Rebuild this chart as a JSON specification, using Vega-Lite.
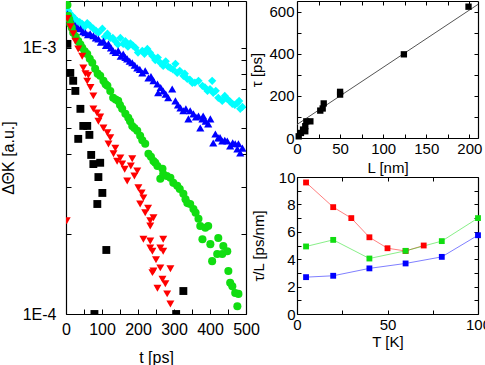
{
  "$schema": "https://vega.github.io/schema/vega-lite/v6.json",
  "padding": {"left": 0, "top": 0, "right": 0, "bottom": 0},
  "bounds": "flush",
  "spacing": 51,
  "config": {
    "view": {"stroke": null},
    "axis": {
      "grid": false,
      "labelFont": "Liberation Sans",
      "titleFont": "Liberation Sans",
      "labelColor": "#000",
      "titleColor": "#000",
      "tickColor": "#000",
      "domainColor": "#000",
      "domainWidth": 1.2,
      "tickWidth": 1,
      "titleFontWeight": "normal",
      "labelOverlap": false,
      "labelFlush": false
    }
  },
  "datasets": {
    "decay": [
      {"s":"c","t":6,"v":13.8e-4},{"s":"c","t":10,"v":13.5e-4},{"s":"c","t":17,"v":13.2e-4},{"s":"c","t":24,"v":12.9e-4},{"s":"c","t":31,"v":12.6e-4},{"s":"c","t":38,"v":12.5e-4},{"s":"c","t":45,"v":12.3e-4},{"s":"c","t":52,"v":12.0e-4},{"s":"c","t":59,"v":12.4e-4},{"s":"c","t":67,"v":12.1e-4},{"s":"c","t":76,"v":11.8e-4},{"s":"c","t":83,"v":11.6e-4},{"s":"c","t":90,"v":11.4e-4},{"s":"c","t":101,"v":11.8e-4},{"s":"c","t":108,"v":11.0e-4},{"s":"c","t":115,"v":11.3e-4},{"s":"c","t":123,"v":10.9e-4},{"s":"c","t":130,"v":10.9e-4},{"s":"c","t":137,"v":10.6e-4},{"s":"c","t":144,"v":10.3e-4},{"s":"c","t":151,"v":10.9e-4},{"s":"c","t":159,"v":10.35e-4},{"s":"c","t":165,"v":10.6e-4},{"s":"c","t":172,"v":10.1e-4},{"s":"c","t":179,"v":10.4e-4},{"s":"c","t":186,"v":10.2e-4},{"s":"c","t":193,"v":10.0e-4},{"s":"c","t":200,"v":9.6e-4},{"s":"c","t":212,"v":9.75e-4},{"s":"c","t":218,"v":9.5e-4},{"s":"c","t":226,"v":9.91e-4},{"s":"c","t":233,"v":9.6e-4},{"s":"c","t":240,"v":9.33e-4},{"s":"c","t":248,"v":9.0e-4},{"s":"c","t":255,"v":9.2e-4},{"s":"c","t":262,"v":8.79e-4},{"s":"c","t":270,"v":8.55e-4},{"s":"c","t":277,"v":8.9e-4},{"s":"c","t":284,"v":8.5e-4},{"s":"c","t":290,"v":8.41e-4},{"s":"c","t":297,"v":8.3e-4},{"s":"c","t":304,"v":8.71e-4},{"s":"c","t":309,"v":8.05e-4},{"s":"c","t":316,"v":8.2e-4},{"s":"c","t":326,"v":7.85e-4},{"s":"c","t":330,"v":8.0e-4},{"s":"c","t":337,"v":7.64e-4},{"s":"c","t":344,"v":7.6e-4},{"s":"c","t":351,"v":7.38e-4},{"s":"c","t":358,"v":7.4e-4},{"s":"c","t":368,"v":7.52e-4},{"s":"c","t":379,"v":7.2e-4},{"s":"c","t":386,"v":7.1e-4},{"s":"c","t":393,"v":6.89e-4},{"s":"c","t":400,"v":7.0e-4},{"s":"c","t":406,"v":7.52e-4},{"s":"c","t":409,"v":6.78e-4},{"s":"c","t":416,"v":6.9e-4},{"s":"c","t":423,"v":6.49e-4},{"s":"c","t":434,"v":6.32e-4},{"s":"c","t":441,"v":6.6e-4},{"s":"c","t":448,"v":6.43e-4},{"s":"c","t":455,"v":6.3e-4},{"s":"c","t":462,"v":6.16e-4},{"s":"c","t":469,"v":6.1e-4},{"s":"c","t":476,"v":6.21e-4},{"s":"c","t":481,"v":6.32e-4},{"s":"c","t":484,"v":5.9e-4},{"s":"c","t":490,"v":6.0e-4},
      {"s":"b","t":4,"v":13.4e-4},{"s":"b","t":12,"v":12.6e-4},{"s":"b","t":19,"v":12.4e-4},{"s":"b","t":26,"v":12.1e-4},{"s":"b","t":33,"v":11.9e-4},{"s":"b","t":40,"v":11.8e-4},{"s":"b","t":47,"v":11.5e-4},{"s":"b","t":54,"v":11.4e-4},{"s":"b","t":61,"v":11.2e-4},{"s":"b","t":67,"v":11.3e-4},{"s":"b","t":76,"v":11.1e-4},{"s":"b","t":83,"v":10.9e-4},{"s":"b","t":90,"v":10.8e-4},{"s":"b","t":97,"v":10.5e-4},{"s":"b","t":104,"v":10.6e-4},{"s":"b","t":111,"v":10.2e-4},{"s":"b","t":118,"v":10.35e-4},{"s":"b","t":125,"v":10.0e-4},{"s":"b","t":131,"v":9.75e-4},{"s":"b","t":138,"v":9.6e-4},{"s":"b","t":145,"v":9.75e-4},{"s":"b","t":152,"v":9.3e-4},{"s":"b","t":159,"v":9.49e-4},{"s":"b","t":165,"v":9.2e-4},{"s":"b","t":170,"v":9.09e-4},{"s":"b","t":177,"v":8.9e-4},{"s":"b","t":184,"v":8.79e-4},{"s":"b","t":191,"v":8.6e-4},{"s":"b","t":198,"v":8.41e-4},{"s":"b","t":205,"v":8.3e-4},{"s":"b","t":212,"v":8.05e-4},{"s":"b","t":220,"v":8.2e-4},{"s":"b","t":229,"v":7.71e-4},{"s":"b","t":236,"v":7.8e-4},{"s":"b","t":243,"v":7.52e-4},{"s":"b","t":254,"v":7.32e-4},{"s":"b","t":256,"v":6.78e-4},{"s":"b","t":263,"v":7.1e-4},{"s":"b","t":270,"v":6.89e-4},{"s":"b","t":277,"v":6.7e-4},{"s":"b","t":284,"v":6.49e-4},{"s":"b","t":295,"v":7.01e-4},{"s":"b","t":304,"v":6.32e-4},{"s":"b","t":311,"v":6.1e-4},{"s":"b","t":318,"v":5.95e-4},{"s":"b","t":326,"v":5.8e-4},{"s":"b","t":333,"v":5.9e-4},{"s":"b","t":340,"v":5.41e-4},{"s":"b","t":345,"v":5.8e-4},{"s":"b","t":354,"v":5.65e-4},{"s":"b","t":361,"v":5.5e-4},{"s":"b","t":368,"v":5.55e-4},{"s":"b","t":373,"v":5.0e-4},{"s":"b","t":379,"v":5.41e-4},{"s":"b","t":381,"v":5.55e-4},{"s":"b","t":388,"v":5.3e-4},{"s":"b","t":395,"v":5.18e-4},{"s":"b","t":401,"v":5.41e-4},{"s":"b","t":409,"v":4.39e-4},{"s":"b","t":415,"v":4.75e-4},{"s":"b","t":423,"v":4.59e-4},{"s":"b","t":428,"v":4.6e-4},{"s":"b","t":434,"v":4.47e-4},{"s":"b","t":441,"v":4.5e-4},{"s":"b","t":448,"v":4.47e-4},{"s":"b","t":456,"v":4.28e-4},{"s":"b","t":463,"v":4.4e-4},{"s":"b","t":470,"v":4.36e-4},{"s":"b","t":476,"v":4.17e-4},{"s":"b","t":479,"v":4.36e-4},{"s":"b","t":484,"v":4.03e-4},{"s":"b","t":490,"v":4.2e-4},
      {"s":"g","t":4,"v":14.5e-4},{"s":"g","t":6,"v":13.2e-4},{"s":"g","t":9,"v":12.8e-4},{"s":"g","t":12,"v":12.3e-4},{"s":"g","t":16,"v":11.9e-4},{"s":"g","t":20,"v":11.4e-4},{"s":"g","t":27,"v":11.0e-4},{"s":"g","t":34,"v":10.6e-4},{"s":"g","t":40,"v":10.3e-4},{"s":"g","t":45,"v":10.0e-4},{"s":"g","t":52,"v":9.7e-4},{"s":"g","t":59,"v":9.49e-4},{"s":"g","t":66,"v":9.1e-4},{"s":"g","t":73,"v":8.79e-4},{"s":"g","t":81,"v":8.34e-4},{"s":"g","t":88,"v":8.0e-4},{"s":"g","t":95,"v":7.85e-4},{"s":"g","t":104,"v":7.52e-4},{"s":"g","t":110,"v":7.3e-4},{"s":"g","t":115,"v":7.2e-4},{"s":"g","t":123,"v":6.89e-4},{"s":"g","t":131,"v":6.49e-4},{"s":"g","t":138,"v":6.4e-4},{"s":"g","t":145,"v":6.32e-4},{"s":"g","t":150,"v":6.1e-4},{"s":"g","t":156,"v":5.9e-4},{"s":"g","t":165,"v":5.65e-4},{"s":"g","t":173,"v":5.46e-4},{"s":"g","t":178,"v":5.3e-4},{"s":"g","t":184,"v":5.09e-4},{"s":"g","t":190,"v":5.0e-4},{"s":"g","t":198,"v":4.88e-4},{"s":"g","t":206,"v":4.67e-4},{"s":"g","t":212,"v":4.5e-4},{"s":"g","t":220,"v":4.36e-4},{"s":"g","t":229,"v":4.0e-4},{"s":"g","t":236,"v":3.9e-4},{"s":"g","t":243,"v":3.76e-4},{"s":"g","t":248,"v":3.7e-4},{"s":"g","t":254,"v":3.6e-4},{"s":"g","t":262,"v":3.22e-4},{"s":"g","t":268,"v":3.51e-4},{"s":"g","t":270,"v":3.36e-4},{"s":"g","t":280,"v":3.3e-4},{"s":"g","t":290,"v":3.25e-4},{"s":"g","t":298,"v":3.11e-4},{"s":"g","t":309,"v":3.03e-4},{"s":"g","t":316,"v":2.95e-4},{"s":"g","t":326,"v":2.83e-4},{"s":"g","t":332,"v":2.7e-4},{"s":"g","t":337,"v":2.61e-4},{"s":"g","t":345,"v":2.59e-4},{"s":"g","t":354,"v":2.48e-4},{"s":"g","t":360,"v":2.4e-4},{"s":"g","t":368,"v":2.28e-4},{"s":"g","t":373,"v":2.14e-4},{"s":"g","t":379,"v":1.91e-4},{"s":"g","t":387,"v":2.11e-4},{"s":"g","t":395,"v":2.14e-4},{"s":"g","t":401,"v":1.83e-4},{"s":"g","t":406,"v":1.58e-4},{"s":"g","t":420,"v":1.68e-4},{"s":"g","t":423,"v":1.93e-4},{"s":"g","t":434,"v":1.68e-4},{"s":"g","t":437,"v":1.8e-4},{"s":"g","t":448,"v":1.72e-4},{"s":"g","t":451,"v":1.45e-4},{"s":"g","t":456,"v":1.31e-4},{"s":"g","t":462,"v":1.27e-4},{"s":"g","t":470,"v":1.2e-4},{"s":"g","t":476,"v":1.07e-4},{"s":"g","t":479,"v":1.19e-4},
      {"s":"r","t":2,"v":2.24e-4},{"s":"r","t":4,"v":12.9e-4},{"s":"r","t":12,"v":12.0e-4},{"s":"r","t":20,"v":11.3e-4},{"s":"r","t":26,"v":10.6e-4},{"s":"r","t":34,"v":9.9e-4},{"s":"r","t":45,"v":9.3e-4},{"s":"r","t":48,"v":8.4e-4},{"s":"r","t":54,"v":8.0e-4},{"s":"r","t":59,"v":7.5e-4},{"s":"r","t":62,"v":7.9e-4},{"s":"r","t":68,"v":7.1e-4},{"s":"r","t":76,"v":6.6e-4},{"s":"r","t":76,"v":5.9e-4},{"s":"r","t":86,"v":5.7e-4},{"s":"r","t":95,"v":5.5e-4},{"s":"r","t":90,"v":5.3e-4},{"s":"r","t":104,"v":5.0e-4},{"s":"r","t":115,"v":4.8e-4},{"s":"r","t":123,"v":4.6e-4},{"s":"r","t":118,"v":4.35e-4},{"s":"r","t":137,"v":4.2e-4},{"s":"r","t":132,"v":4.0e-4},{"s":"r","t":151,"v":3.86e-4},{"s":"r","t":142,"v":3.75e-4},{"s":"r","t":156,"v":3.66e-4},{"s":"r","t":163,"v":3.5e-4},{"s":"r","t":184,"v":3.83e-4},{"s":"r","t":180,"v":3.6e-4},{"s":"r","t":170,"v":3.16e-4},{"s":"r","t":190,"v":3.3e-4},{"s":"r","t":198,"v":3.45e-4},{"s":"r","t":201,"v":2.98e-4},{"s":"r","t":210,"v":2.85e-4},{"s":"r","t":215,"v":2.73e-4},{"s":"r","t":206,"v":2.59e-4},{"s":"r","t":220,"v":2.4e-4},{"s":"r","t":228,"v":2.5e-4},{"s":"r","t":234,"v":2.24e-4},{"s":"r","t":243,"v":2.3e-4},{"s":"r","t":215,"v":1.91e-4},{"s":"r","t":234,"v":2.14e-4},{"s":"r","t":234,"v":1.88e-4},{"s":"r","t":240,"v":1.72e-4},{"s":"r","t":270,"v":1.91e-4},{"s":"r","t":262,"v":1.77e-4},{"s":"r","t":234,"v":1.77e-4},{"s":"r","t":270,"v":1.72e-4},{"s":"r","t":250,"v":1.6e-4},{"s":"r","t":240,"v":1.43e-4},{"s":"r","t":243,"v":1.45e-4},{"s":"r","t":262,"v":1.49e-4},{"s":"r","t":290,"v":1.48e-4},{"s":"r","t":254,"v":1.25e-4},{"s":"r","t":276,"v":1.3e-4},{"s":"r","t":268,"v":1.35e-4},{"s":"r","t":281,"v":1.19e-4},{"s":"r","t":290,"v":1.09e-4},
      {"s":"k","t":4,"v":10.35e-4},{"s":"k","t":12,"v":8.05e-4},{"s":"k","t":20,"v":7.52e-4},{"s":"k","t":26,"v":6.89e-4},{"s":"k","t":34,"v":4.55e-4},{"s":"k","t":40,"v":5.9e-4},{"s":"k","t":48,"v":5.09e-4},{"s":"k","t":59,"v":5.09e-4},{"s":"k","t":65,"v":4.71e-4},{"s":"k","t":70,"v":3.96e-4},{"s":"k","t":76,"v":3.66e-4},{"s":"k","t":87,"v":2.59e-4},{"s":"k","t":90,"v":3.27e-4},{"s":"k","t":95,"v":3.7e-4},{"s":"k","t":101,"v":2.85e-4},{"s":"k","t":112,"v":1.74e-4},{"s":"k","t":79,"v":1.0e-4},{"s":"k","t":306,"v":1.0e-4},{"s":"k","t":326,"v":1.22e-4}
    ],
    "tau": [
      {"L":2,"tau":8},{"L":4.6,"tau":24},{"L":7,"tau":40},{"L":9.6,"tau":56},{"L":9.6,"tau":32},{"L":10.8,"tau":79},{"L":15.5,"tau":79},{"L":27,"tau":130},{"L":29.8,"tau":140},{"L":31,"tau":164},{"L":50,"tau":206},{"L":50,"tau":219},{"L":124,"tau":397},{"L":199,"tau":623}
    ],
    "fit": [{"L":0,"tau":64},{"L":210,"tau":634}],
    "ratio": [
      {"s":"r","T":5,"r":9.6},{"s":"r","T":20,"r":7.8},{"s":"r","T":30,"r":7.0},{"s":"r","T":40,"r":5.6},{"s":"r","T":50,"r":4.8},{"s":"r","T":60,"r":4.6},{"s":"r","T":70,"r":5.0},
      {"s":"g","T":5,"r":4.93},{"s":"g","T":20,"r":5.41},{"s":"g","T":40,"r":4.05},{"s":"g","T":60,"r":4.61},{"s":"g","T":80,"r":5.32},{"s":"g","T":100,"r":7.0},
      {"s":"b","T":5,"r":2.69},{"s":"b","T":20,"r":2.79},{"s":"b","T":40,"r":3.33},{"s":"b","T":60,"r":3.69},{"s":"b","T":80,"r":4.17},{"s":"b","T":100,"r":5.75}
    ]
  },
  "hconcat": [
    {
      "width": 180,
      "height": 313,
      "data": {"name": "decay"},
      "layer": [
        {
          "mark": {"type": "point", "filled": true, "opacity": 1, "clip": true},
          "encoding": {
            "x": {"field": "t", "type": "quantitative",
              "scale": {"domain": [0, 500], "nice": false, "zero": false},
              "axis": {"orient": "bottom", "title": "t [ps]", "values": [0,50,100,150,200,250,300,350,400,450,500],
                "labelExpr": "datum.value % 100 == 0 ? datum.label : ''",
                "tickSize": -5, "labelPadding": 12, "labelFontSize": 16, "titleFontSize": 16, "titlePadding": 12}},
            "y": {"field": "v", "type": "quantitative",
              "scale": {"type": "log", "domain": [0.0001, 0.0015], "nice": false},
              "axis": {"orient": "left", "title": "ΔΘK [a.u.]", "values": [0.0001,0.0002,0.0003,0.0004,0.0005,0.0006,0.0007,0.0008,0.0009,0.001],
                "labelExpr": "abs(datum.value - 0.001) < 1e-9 ? '1E-3' : (abs(datum.value - 0.0001) < 1e-10 ? '1E-4' : '')",
                "tickSize": -5, "labelPadding": 15, "labelFontSize": 16, "titleFontSize": 16, "titlePadding": 6}},
            "color": {"field": "s", "type": "nominal", "legend": null,
              "scale": {"domain": ["c","b","g","r","k"], "range": ["#00ffff","#0000ff","#11dd11","#ff0000","#000000"]}},
            "shape": {"field": "s", "type": "nominal", "legend": null,
              "scale": {"domain": ["c","b","g","r","k"], "range": ["diamond","triangle-up","circle","triangle-down","square"]}},
            "size": {"field": "s", "type": "nominal", "legend": null,
              "scale": {"domain": ["c","b","g","r","k"], "range": [68, 62, 50, 62, 38]}}
          }
        },
        {
          "mark": {"type": "point", "opacity": 0},
          "encoding": {
            "x": {"datum": 0, "type": "quantitative",
              "axis": {"orient": "top", "title": null, "labels": false, "values": [0,50,100,150,200,250,300,350,400,450,500], "tickSize": -5}},
            "y": {"datum": 0.001, "type": "quantitative",
              "axis": {"orient": "right", "title": null, "labels": false, "values": [0.0001,0.0002,0.0003,0.0004,0.0005,0.0006,0.0007,0.0008,0.0009,0.001], "tickSize": -5}}
          }
        }
      ],
      "resolve": {"axis": {"x": "independent", "y": "independent"}}
    },
    {
      "vconcat": [
        {
          "width": 181,
          "height": 137,
          "layer": [
            {
              "data": {"name": "fit"},
              "mark": {"type": "line", "color": "#555555", "strokeWidth": 1},
              "encoding": {
                "x": {"field": "L", "type": "quantitative",
                  "scale": {"domain": [0, 210], "nice": false, "zero": false},
                  "axis": {"orient": "bottom", "title": "L [nm]", "values": [0,25,50,75,100,125,150,175,200],
                    "labelExpr": "datum.value % 50 == 0 ? datum.label : ''",
                    "tickSize": -4, "labelPadding": 7, "labelFontSize": 15, "titleFontSize": 15, "titlePadding": 4}},
                "y": {"field": "tau", "type": "quantitative",
                  "scale": {"domain": [0, 650], "nice": false, "zero": false},
                  "axis": {"orient": "left", "title": "τ [ps]", "values": [0,100,200,300,400,500,600],
                    "labelExpr": "datum.value % 200 == 0 ? datum.label : ''",
                    "tickSize": -4, "labelPadding": 7, "labelFontSize": 15, "titleFontSize": 15, "titlePadding": 4}}
              }
            },
            {
              "data": {"name": "tau"},
              "mark": {"type": "square", "color": "#000000", "opacity": 1, "size": 40},
              "encoding": {
                "x": {"field": "L", "type": "quantitative",
                  "axis": {"orient": "top", "title": null, "labels": false, "values": [0,25,50,75,100,125,150,175,200], "tickSize": -4}},
                "y": {"field": "tau", "type": "quantitative",
                  "axis": {"orient": "right", "title": null, "labels": false, "values": [0,100,200,300,400,500,600], "tickSize": -4}}
              }
            }
          ],
          "resolve": {"axis": {"x": "independent", "y": "independent"}}
        },
        {
          "width": 181,
          "height": 137,
          "data": {"name": "ratio"},
          "layer": [
            {
              "mark": {"type": "line", "strokeWidth": 1, "opacity": 0.5},
              "encoding": {
                "x": {"field": "T", "type": "quantitative",
                  "scale": {"domain": [0, 100], "nice": false, "zero": false},
                  "axis": {"orient": "bottom", "title": "T [K]", "values": [0,25,50,75,100],
                    "labelExpr": "datum.value % 50 == 0 ? datum.label : ''",
                    "tickSize": -4, "labelPadding": 7, "labelFontSize": 15, "titleFontSize": 15, "titlePadding": 2}},
                "y": {"field": "r", "type": "quantitative",
                  "scale": {"domain": [0, 10], "nice": false, "zero": false},
                  "axis": {"orient": "left", "title": "τ/L [ps/nm]", "values": [0,1,2,3,4,5,6,7,8,9,10],
                    "labelExpr": "datum.value % 2 == 0 ? datum.label : ''",
                    "tickSize": -4, "labelPadding": 6, "labelFontSize": 15, "titleFontSize": 15, "titlePadding": 12}},
                "color": {"field": "s", "type": "nominal", "legend": null,
                  "scale": {"domain": ["r","g","b"], "range": ["#ff0000","#11cc11","#0000ff"]}},
                "detail": {"field": "s"}
              }
            },
            {
              "mark": {"type": "square", "opacity": 1, "size": 34},
              "encoding": {
                "x": {"field": "T", "type": "quantitative",
                  "axis": {"orient": "top", "title": null, "labels": false, "values": [0,25,50,75,100], "tickSize": -4}},
                "y": {"field": "r", "type": "quantitative",
                  "axis": {"orient": "right", "title": null, "labels": false, "values": [0,1,2,3,4,5,6,7,8,9,10], "tickSize": -4}},
                "color": {"field": "s", "type": "nominal", "legend": null}
              }
            }
          ],
          "resolve": {"axis": {"x": "independent", "y": "independent"}}
        }
      ],
      "spacing": 39,
      "bounds": "flush"
    }
  ]
}
